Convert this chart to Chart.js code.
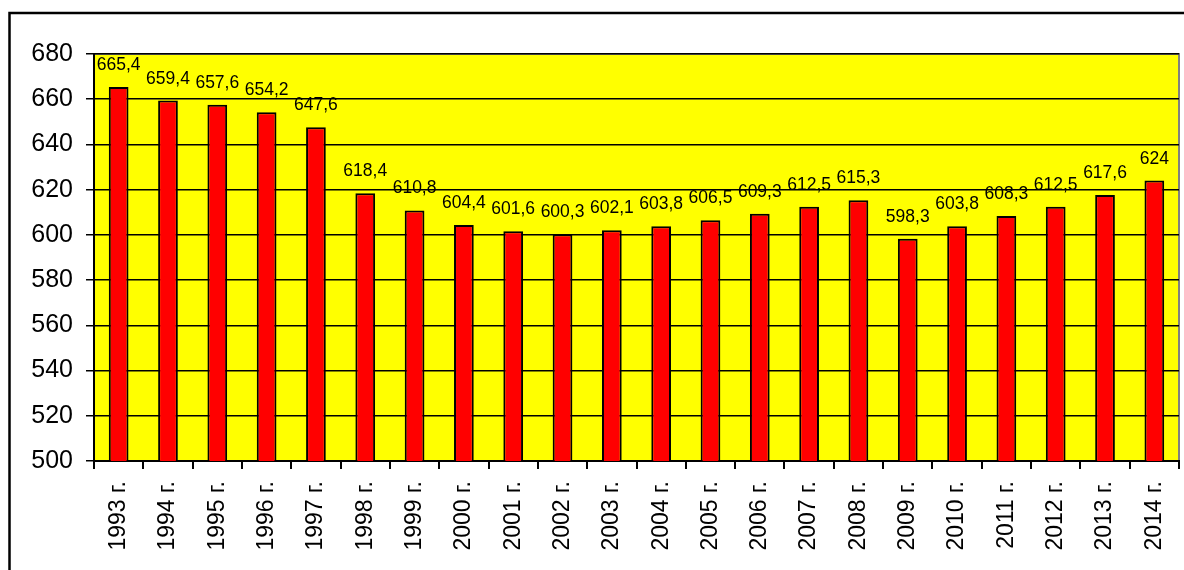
<!DOCTYPE html>
<html lang="ru">
  <head>
    <meta charset="UTF-8" />
    <title>1993-2014</title>
    <style>
      html, body { margin: 0; padding: 0; background: #fff; }
      #wrap { width: 1184px; height: 570px; position: relative; }
    </style>
  </head>
  <body>
    <div id="wrap"><canvas id="myChart" width="1184" height="570"></canvas></div>
    <script src="https://cdn.jsdelivr.net/npm/chart.js"></script>
    <script>
      const years = [1993, 1994, 1995, 1996, 1997, 1998, 1999, 2000, 2001, 2002, 2003,
        2004, 2005, 2006, 2007, 2008, 2009, 2010, 2011, 2012, 2013, 2014];
      const values = [665.4, 659.4, 657.6, 654.2, 647.6, 618.4, 610.8, 604.4, 601.6, 600.3, 602.1,
        603.8, 606.5, 609.3, 612.5, 615.3, 598.3, 603.8, 608.3, 612.5, 617.6, 624];
      const yMin = 500;
      const yMax = 680;
      const yStep = 20;

      const labels = years.map((y) => y + " г.");
      const fontFam = "'Liberation Sans', Arial, sans-serif";

      // yellow plot area, gray frame, and the outer black frame
      const background = {
        id: "background",
        beforeDraw(chart) {
          const { ctx, chartArea: a } = chart;
          ctx.save();
          ctx.strokeStyle = "#000";
          ctx.lineWidth = 2.5;
          ctx.strokeRect(9.5, 13, 1300, 700);
          ctx.fillStyle = "#ffff00";
          ctx.fillRect(a.left, a.top, a.right - a.left, a.bottom - a.top);
          ctx.strokeStyle = "#808080";
          ctx.lineWidth = 2;
          ctx.strokeRect(a.left, a.top, a.right - a.left, a.bottom - a.top);
          ctx.restore();
        },
      };

      // value labels above the bars
      const valueLabels = {
        id: "valueLabels",
        afterDatasetsDraw(chart) {
          const { ctx } = chart;
          const meta = chart.getDatasetMeta(0);
          ctx.save();
          ctx.fillStyle = "#000";
          ctx.font = "17.5px " + fontFam;
          ctx.textAlign = "center";
          ctx.textBaseline = "alphabetic";
          meta.data.forEach((bar, i) => {
            const v = values[i];
            const txt = Number.isInteger(v) ? String(v) : String(v).replace(".", ",");
            ctx.fillText(txt, bar.x, bar.y - 17);
          });
          ctx.restore();
        },
      };

      const config = {
        type: "bar",
        data: {
          labels: labels,
          datasets: [
            {
              data: values,
              backgroundColor: "#ff0000",
              borderColor: "#000",
              borderWidth: 2,
              borderSkipped: false,
              barPercentage: 0.4,
              categoryPercentage: 1,
            },
          ],
        },
        options: {
          responsive: false,
          animation: false,
          layout: { padding: { top: 54, right: 5, left: 0, bottom: 0 } },
          plugins: { legend: { display: false }, tooltip: { enabled: false } },
          scales: {
            x: {
              grid: {
                display: true,
                drawOnChartArea: false,
                drawTicks: true,
                tickLength: 8,
                color: "#000",
                lineWidth: 2,
                offset: true,
              },
              border: { color: "#000", width: 2 },
              ticks: {
                color: "#000",
                font: { size: 23, family: fontFam },
                minRotation: 90,
                maxRotation: 90,
                autoSkip: false,
                padding: 12,
              },
              afterFit(scale) {
                scale.height = 109;
                scale.paddingLeft = 0;
                scale.paddingRight = 0;
              },
            },
            y: {
              min: yMin,
              max: yMax,
              grid: {
                color: "#000",
                lineWidth: 1.5,
                tickLength: 8,
              },
              border: { color: "#000", width: 2 },
              ticks: {
                stepSize: yStep,
                color: "#000",
                font: { size: 25, family: fontFam },
                padding: 13,
              },
              afterFit(scale) {
                scale.width = 94;
                scale.paddingTop = 0;
                scale.paddingBottom = 0;
              },
            },
          },
        },
        plugins: [background, valueLabels],
      };

      new Chart(document.getElementById("myChart"), config);
    </script>
  </body>
</html>
